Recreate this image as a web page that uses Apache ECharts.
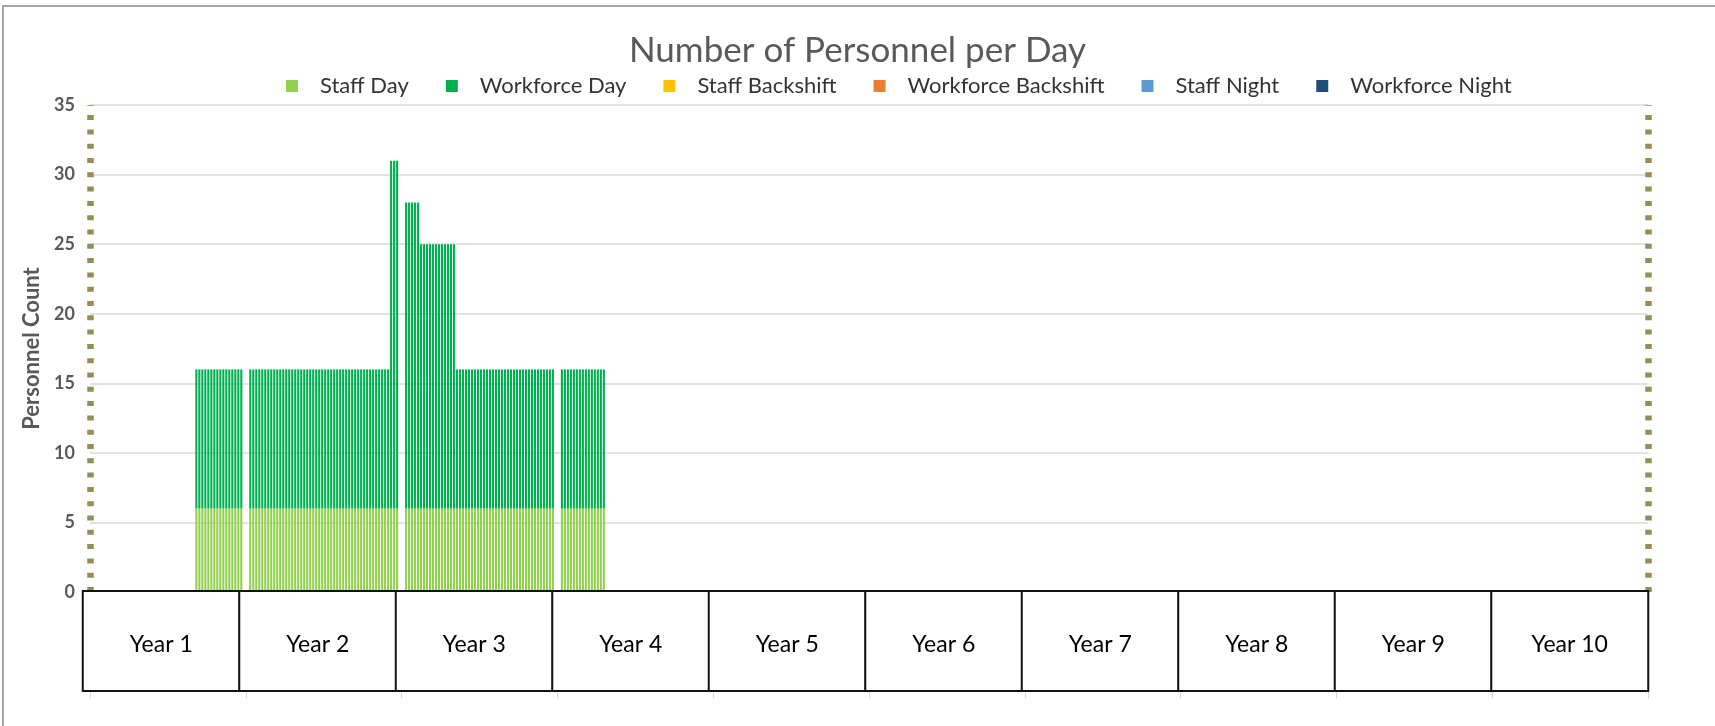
<!DOCTYPE html>
<html>
<head>
<meta charset="utf-8">
<title>Number of Personnel per Day</title>
<script src="https://cdn.jsdelivr.net/npm/echarts@6/dist/echarts.min.js"></script>
<style>
  html, body { margin: 0; padding: 0; background: #fff; }
  #chart { width: 1715px; height: 726px; }
</style>
</head>
<body>
<div id="chart"></div>
<script>
// labels in the boxes under the plot
const years = ['Year 1', 'Year 2', 'Year 3', 'Year 4', 'Year 5',
               'Year 6', 'Year 7', 'Year 8', 'Year 9', 'Year 10'];
const weeksPerYear = 52;

// y axis ticks
const yMin = 0, yMax = 35, yStep = 5;

// runs of staffed weeks (week index from start of Year 1)
const runStart     = [35, 53, 100, 105, 110, 122, 157];
const runEnd       = [50, 99, 102, 109, 121, 154, 171];
const staffDay     = [6, 6, 6, 6, 6, 6, 6];
const workforceDay = [10, 10, 25, 22, 19, 10, 10];

const seriesNames  = ['Staff Day', 'Workforce Day', 'Staff Backshift',
                      'Workforce Backshift', 'Staff Night', 'Workforce Night'];
const seriesColors = ['#92d050', '#00b050', '#ffc000', '#ed7d31', '#5b9bd5', '#1f4e79'];

// week slots along the whole axis
const weeks = [];
for (let w = 0; w < years.length * weeksPerYear; w++) weeks.push(w);

// one bar per week (its working days), weekends show as the white gaps
function weekly(values) {
  const out = weeks.map(() => null);
  runStart.forEach((s, r) => {
    for (let w = s; w <= runEnd[r]; w++) out[w] = values[r];
  });
  return out;
}

const dataBySeries = [weekly(staffDay), weekly(workforceDay), [], [], [], []];

const font = 'Lato';
// square dots: axis lines get round caps by default, so force butt
const dotted = { show: true, onZero: false,
  lineStyle: { color: '#978c53', width: 6.5, type: [5, 9.3], cap: 'butt' } };

const chart = echarts.init(document.getElementById('chart'));
chart.setOption({
  animation: false,
  backgroundColor: '#fff',
  title: {
    text: 'Number of Personnel per Day',
    left: 'center', top: 33, padding: 0,
    textStyle: { fontFamily: font, fontSize: 35, fontWeight: 'normal', color: '#595959' }
  },
  legend: {
    data: seriesNames,
    left: 286, top: 75, padding: 0,
    icon: 'rect', itemWidth: 12, itemHeight: 12, itemGap: 37,
    textStyle: { fontFamily: font, fontSize: 22, color: '#333', padding: [0, 0, 0, 17] }
  },
  grid: [
    { left: 90, right: 67, top: 105, bottom: 134 },
    { left: 83, right: 67, top: 105, bottom: 134 }
  ],
  xAxis: [
    {
      gridIndex: 0, type: 'category', data: weeks, boundaryGap: true,
      axisLine: { show: false },
      axisLabel: { show: false },
      axisTick: { show: true, length: 107, interval: (i) => i % weeksPerYear === 0,
                  lineStyle: { color: '#d9d9d9', width: 1 } },
      splitLine: { show: false }
    },
    {
      gridIndex: 1, type: 'category', data: years, z: 5,
      axisLine: { show: false },
      axisTick: { show: false },
      axisLabel: {
        interval: 0, margin: 0,
        fontFamily: font, fontSize: 23, color: '#000',
        width: 155, height: 91, lineHeight: 91, padding: [7, 0, 0, 0],
        backgroundColor: '#fff', borderColor: '#111', borderWidth: 2
      }
    }
  ],
  yAxis: [
    {
      gridIndex: 0, type: 'value', min: yMin, max: yMax, interval: yStep,
      name: 'Personnel Count', nameLocation: 'middle', nameGap: 34,
      nameTextStyle: { fontFamily: font, fontSize: 22, fontWeight: 'bold', color: '#595959' },
      axisLabel: { fontFamily: font, fontSize: 18, fontWeight: 'bold', color: '#595959', margin: 15 },
      axisLine: dotted,
      axisTick: { show: false },
      splitLine: { lineStyle: { color: '#d9d9d9', width: 1.5 } }
    },
    {
      gridIndex: 0, type: 'value', position: 'right', min: yMin, max: yMax, interval: yStep,
      axisLabel: { show: false },
      axisLine: dotted,
      axisTick: { show: false },
      splitLine: { show: false }
    },
    { gridIndex: 1, type: 'value', show: false }
  ],
  graphic: [{
    type: 'rect', silent: true, z: -10,
    shape: { x: 3, y: 6, width: 1800, height: 800 },
    style: { fill: 'none', stroke: '#a6a6a6', lineWidth: 2 }
  }],
  series: seriesNames.map((name, i) => ({
    name: name,
    type: 'bar',
    stack: 'total',
    xAxisIndex: 0,
    yAxisIndex: 0,
    barWidth: 2.1,
    itemStyle: { color: seriesColors[i] },
    data: dataBySeries[i]
  }))
});
</script>
</body>
</html>
